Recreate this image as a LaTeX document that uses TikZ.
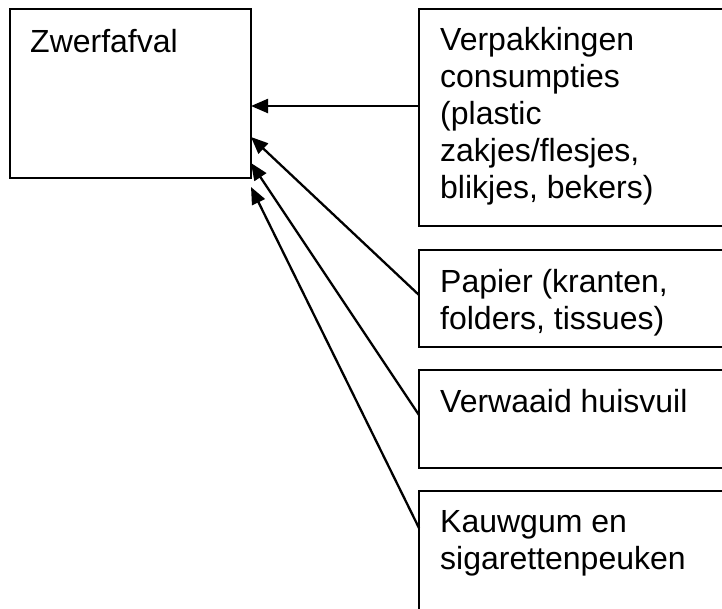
\documentclass[tikz,border=0pt]{standalone}
\usepackage{fontspec}
\setmainfont{Liberation Sans}
\usetikzlibrary{arrows.meta}
\begin{document}
\begin{tikzpicture}[x=1pt,y=-1pt,
  box/.style={draw, line width=2.5pt, rectangle, anchor=north west, inner sep=0pt, outer sep=0pt},
  lbl/.style={anchor=north west, inner sep=0pt, align=left, font=\fontsize{32}{37}\selectfont},
  arr/.style={line width=2.3pt, -{Triangle[length=17pt,width=14pt]}}]
\useasboundingbox (0,0) rectangle (722,608);
\clip (0,0) rectangle (722,608);
\node[box, minimum width=241pt, minimum height=169pt] (zw) at (10,9) {};
\node[box, minimum width=330pt, minimum height=217pt] (b1) at (419,9) {};
\node[box, minimum width=330pt, minimum height=97pt] (b2) at (419,250) {};
\node[box, minimum width=330pt, minimum height=98pt] (b3) at (419,370) {};
\node[box, minimum width=330pt, minimum height=150pt] (b4) at (419,491) {};
\node[lbl] (zwt) at (30,29) {Zwerfafval};
\node[lbl] (t1) at (440,27) {Verpakkingen\\consumpties\\(plastic\\zakjes/flesjes,\\blikjes, bekers)};
\node[lbl] (t2) at (440,269) {Papier (kranten,\\folders, tissues)};
\node[lbl] (t3) at (440,389) {Verwaaid huisvuil};
\node[lbl] (t4) at (440,510) {Kauwgum en\\sigarettenpeuken};
\draw[arr] ([yshift=-97pt]b1.north west) -- ([yshift=-97pt]zw.north east);
\draw[arr] ([yshift=-45pt]b2.north west) -- ([yshift=-128pt]zw.north east);
\draw[arr] ([yshift=-45pt]b3.north west) -- ([yshift=-154pt]zw.north east);
\draw[arr] ([yshift=-37pt]b4.north west) -- ([yshift=-178pt]zw.north east);
\end{tikzpicture}
\end{document}
